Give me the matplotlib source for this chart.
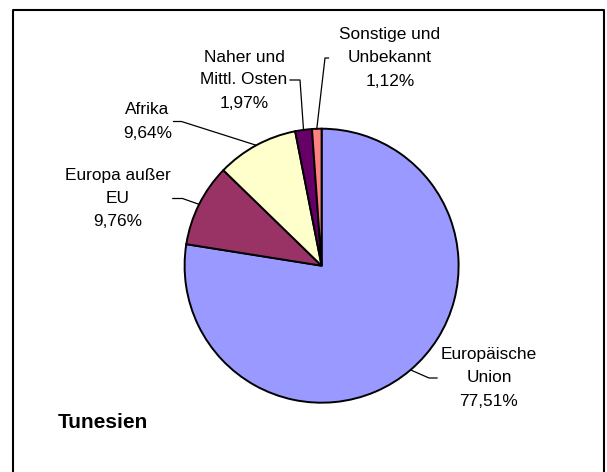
import matplotlib
matplotlib.use("Agg")
import matplotlib.pyplot as plt
import numpy as np

# ---- data ----
categories = ["Europäische\nUnion", "Europa außer\nEU", "Afrika", "Naher und\nMittl. Osten", "Sonstige und\nUnbekannt"]
values = [77.51, 9.76, 9.64, 1.97, 1.12]
colors = ["#9999FF", "#993366", "#FFFFCC", "#660066", "#FF8080"]
title = "Tunesien"

# ---- layout (image pixel coords, y downward) ----
W, H = 607, 472
cx, cy, R = 321.6, 265.7, 137.0
# label block: (center x, middle y), leader elbow points (x_text_end, x_elbow)
label_pos = [(489.0, 378.0), (117.5, 198.5), (147.5, 121.5), (244.0, 80.0), (390.0, 58.0)]
leader_h = [(437.0, 429.0), (172.8, 182.5), (173.5, 181.5), (290.0, 300.0), (328.5, 325.0)]
line_gap = 23.0
fs = 12.4

fig = plt.figure(figsize=(W / 100, H / 100), dpi=100)
ax = fig.add_axes([0, 0, 1, 1])

def Y(y):
    return H - y

wedges, _ = ax.pie(values, colors=colors, startangle=90, counterclock=False,
                   center=(cx, Y(cy)), radius=R,
                   wedgeprops=dict(edgecolor="black", linewidth=1.4))

ax.set_xlim(0, W)
ax.set_ylim(0, H)
ax.set_aspect("auto")
ax.axis("off")

font = ["Liberation Sans", "DejaVu Sans"]

for w, cat, v, (lx, ly), (xa, xb) in zip(wedges, categories, values, label_pos, leader_h):
    theta = np.deg2rad((w.theta1 + w.theta2) / 2.0)
    ex = cx + R * np.cos(theta)
    ey = Y(cy) + R * np.sin(theta)
    ax.plot([xa, xb, ex], [Y(ly), Y(ly), ey], color="black", lw=0.9, zorder=3)
    lines = cat.split("\n") + [f"{v:.2f}".replace(".", ",") + "%"]
    n = len(lines)
    for i, t in enumerate(lines):
        yy = ly + (i - (n - 1) / 2.0) * line_gap
        ax.text(lx, Y(yy), t, ha="center", va="center", fontsize=fs,
                family=font, color="black")

ax.text(58, Y(423), title, ha="left", va="center", fontsize=15,
        fontweight="bold", family=font)

# chart frame
ax.plot([12.5, 12.5, 603.5, 603.5], [Y(480), Y(9.5), Y(9.5), Y(480)],
        color="black", lw=1.5, clip_on=False, zorder=4)

fig.savefig("out.png", dpi=100)
